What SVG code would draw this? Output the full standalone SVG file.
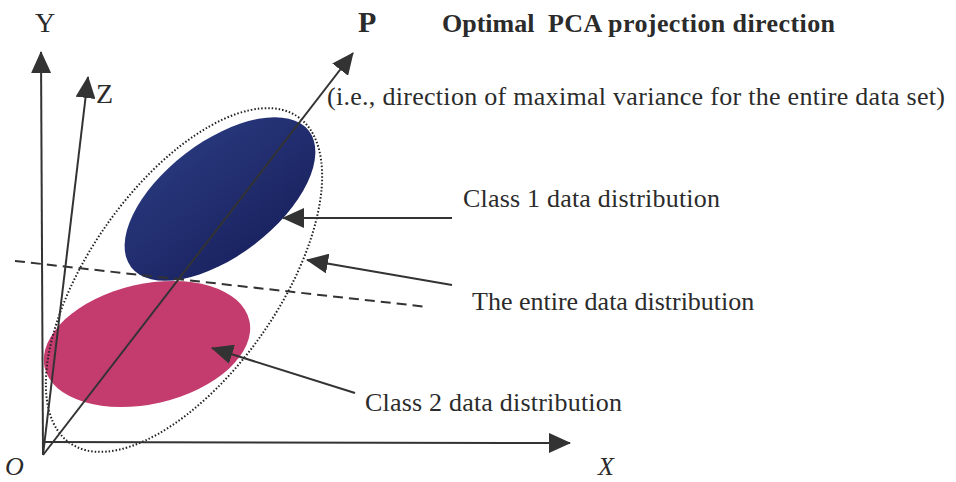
<svg xmlns="http://www.w3.org/2000/svg" width="956" height="482" viewBox="0 0 956 482">
<style>
.t{font-family:"Liberation Serif","Times New Roman",serif;fill:#2b2b2b}
.lbl{font-size:26px}
.ax{font-size:28px}
.b{font-weight:bold}
.i{font-style:italic}
.ln{stroke:#333;stroke-width:2;fill:none}
.dot{stroke:#222;stroke-width:2;stroke-dasharray:1.5 2;fill:none}
.dash{stroke:#333;stroke-width:2;stroke-dasharray:10 6;fill:none}
</style>
<defs>
<marker id="ah" viewBox="0 0 22 20" refX="21" refY="10" markerWidth="22" markerHeight="20" markerUnits="userSpaceOnUse" orient="auto">
<path d="M0,0 L22,10 L0,20 z" fill="#333"/>
</marker>
<linearGradient id="gb" x1="0" y1="0" x2="0" y2="1">
<stop offset="0" stop-color="#27367a"/>
<stop offset="1" stop-color="#1b2462"/>
</linearGradient>
</defs>
<rect width="956" height="482" fill="#fff"/>

<g id="class2">
<ellipse cx="147" cy="344" rx="105" ry="60" transform="rotate(-13 147 344)" fill="#c43b6d"/>
</g>
<g id="class1">
<ellipse cx="220" cy="199" rx="112" ry="57" transform="rotate(-37.5 220 199)" fill="url(#gb)"/>
</g>
<g id="entire">
<ellipse cx="184" cy="280" rx="199" ry="95" transform="rotate(-55 184 280)" class="dot"/>
</g>
<g id="boundary">
<line x1="15" y1="261" x2="428" y2="307" class="dash"/>
</g>

<g id="axes">
<line x1="43" y1="455" x2="41" y2="52" class="ln" marker-end="url(#ah)"/>
<line x1="43" y1="455" x2="88" y2="77" class="ln" marker-end="url(#ah)"/>
<line x1="43" y1="442" x2="570" y2="443" class="ln" marker-end="url(#ah)"/>
<line x1="43" y1="455" x2="353" y2="53" class="ln" marker-end="url(#ah)" stroke-width="1.6"/>
<text class="t ax" x="35" y="32">Y</text>
<text class="t ax" x="96" y="103">Z</text>
<text class="t i" font-size="26" x="5" y="475">O</text>
<text class="t i" font-size="26" x="598" y="475">X</text>
<text class="t b" x="358" y="32" font-size="30">P</text>
</g>

<g id="connectors">
<line x1="452" y1="218" x2="283" y2="218" class="ln" marker-end="url(#ah)"/>
<line x1="452" y1="285" x2="307" y2="260" class="ln" marker-end="url(#ah)"/>
<line x1="355" y1="393" x2="212" y2="348" class="ln" marker-end="url(#ah)"/>
</g>

<g id="labels">
<text class="t lbl b" x="442" y="32">Optimal</text>
<text class="t lbl b" x="548" y="32" textLength="287" lengthAdjust="spacing">PCA projection direction</text>
<text class="t lbl" x="327" y="105" textLength="618" lengthAdjust="spacing">(i.e., direction of maximal variance for the entire data set)</text>
<text class="t lbl" x="463" y="207" textLength="257" lengthAdjust="spacing">Class 1 data distribution</text>
<text class="t lbl" x="472" y="310">The entire data distribution</text>
<text class="t lbl" x="365" y="411" textLength="257" lengthAdjust="spacing">Class 2 data distribution</text>
</g>
</svg>
